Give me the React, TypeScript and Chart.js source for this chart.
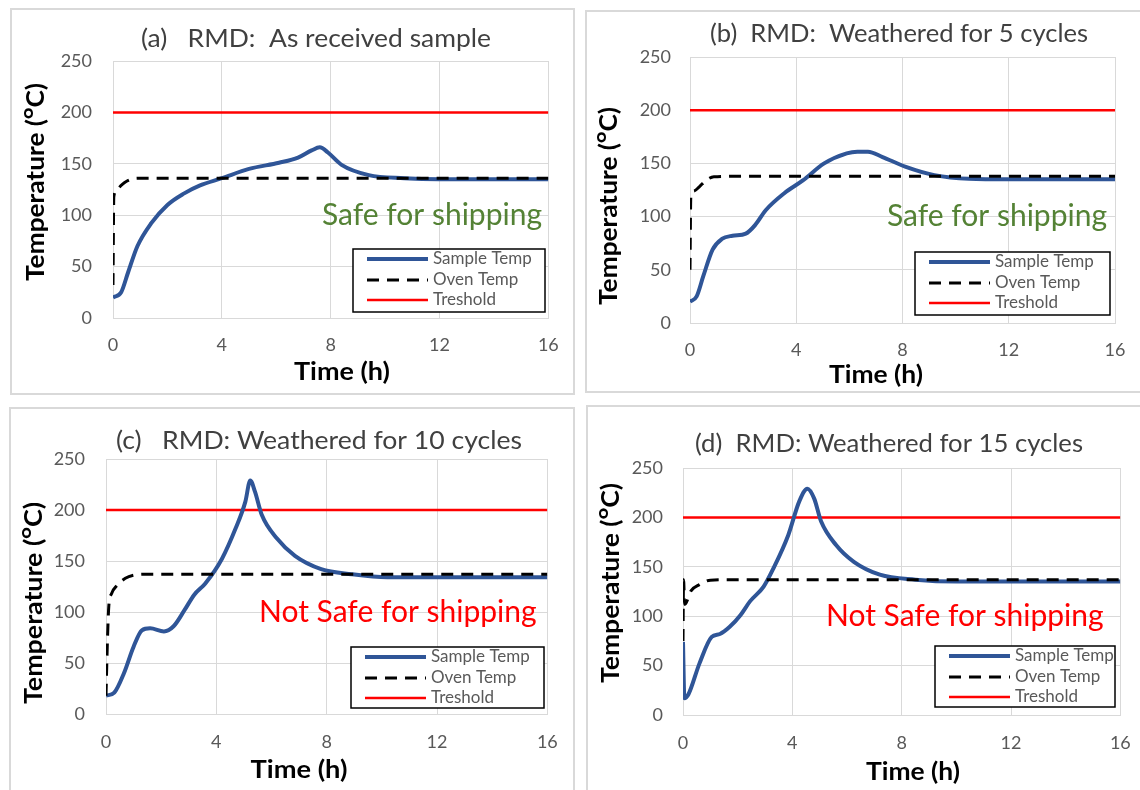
import React, { useEffect, useRef } from 'react';
import { Chart, registerables } from 'chart.js';

Chart.register(...registerables);

// ---------- DATA ----------
const xTicks = [0, 4, 8, 12, 16];
const yTicks = [0, 50, 100, 150, 200, 250];
const seriesNames = ['Sample Temp', 'Oven Temp', 'Treshold'];
const panelTitles = [
  '(a)   RMD:  As received sample',
  '(b)  RMD:  Weathered for 5 cycles',
  '(c)   RMD: Weathered for 10 cycles',
  '(d)  RMD: Weathered for 15 cycles',
];
const verdicts = ['Safe for shipping', 'Safe for shipping', 'Not Safe for shipping', 'Not Safe for shipping'];
const xAxisTitle = 'Time (h)';
const yAxisTitle = 'Temperature (\u1D3CC)';
const thresholdTime = [0, 16];
const thresholdTemp = [200, 200];

// (a) As received
const sampleTimeA = [0, 0.3, 0.55, 0.9, 1.4, 2.0, 2.6, 3.2, 4.0, 5.0, 6.1, 6.8, 7.3, 7.6, 7.9, 8.4, 9.4, 10.7, 12, 14, 16];
const sampleTempA = [20, 25, 44, 70, 92, 110, 121, 129, 136, 145, 151, 156, 163, 166, 161, 149, 139, 136, 135, 135, 135];
const ovenTimeA = [0, 0.03, 0.15, 0.3, 0.5, 0.9, 2, 16];
const ovenTempA = [32, 118, 125, 129, 133, 136, 136, 136];

// (b) 5 cycles
const sampleTimeB = [0, 0.25, 0.5, 0.85, 1.2, 1.6, 2.1, 2.45, 2.85, 3.55, 4.25, 5.05, 5.9, 6.3, 6.7, 7.25, 8.1, 9.2, 10.5, 12, 16];
const sampleTempB = [20, 25, 44, 69, 79, 82, 84, 92, 106, 122, 134, 150, 159.5, 161, 161, 156, 147, 139, 135.5, 135, 135];
const ovenTimeB = [0, 0.03, 0.15, 0.35, 0.6, 0.9, 2, 16];
const ovenTempB = [50, 118, 124, 128, 134, 137.5, 138, 138];

// (c) 10 cycles
const sampleTimeC = [0, 0.3, 0.65, 1.0, 1.3, 1.6, 2.1, 2.45, 2.85, 3.2, 3.6, 4.2, 4.7, 5.05, 5.23, 5.4, 5.65, 6.2, 6.85, 7.8, 8.9, 10.2, 12, 16];
const sampleTempC = [18, 21, 40, 66, 82, 84, 81, 86, 102, 117, 128, 152, 182, 208, 229, 218, 195, 172, 155, 142, 137, 134, 134, 134];
const ovenTimeC = [0, 0.05, 0.1, 0.2, 0.4, 0.7, 1.0, 1.5, 16];
const ovenTempC = [18, 70, 105, 118, 126, 133, 136, 137, 137];

// (d) 15 cycles
const sampleTimeD = [0, 0.05, 0.2, 0.6, 1.05, 1.35, 1.7, 2.1, 2.45, 2.95, 3.3, 3.85, 4.25, 4.55, 4.8, 5.05, 5.6, 6.25, 7.2, 8.5, 10, 16];
const sampleTempD = [74, 17, 21, 52, 79, 82, 89, 101, 115, 130, 148, 182, 216, 229, 219, 196, 172, 155, 142, 137, 135, 135];
const ovenTimeD = [0, 0.02, 0.06, 0.3, 0.6, 1.0, 2, 16];
const ovenTempD = [75, 137, 112, 126, 132, 136.5, 137, 137];

// ---------- STYLE / LAYOUT ----------
const FONT = 'Lato, "Open Sans", sans-serif';
const BLUE = '#2F5597';
const GRID = '#D9D9D9';
const GREEN = '#548235';
const RED = '#FF0000';

type Layout = {
  box: { x: number; y: number; w: number; h: number };
  plot: { l: number; r: number; t: number; b: number };
  title: { cx: number; cy: number; w: number };
  yTitle: { cx: number; cy: number; w: number };
  xTitle: { cx: number; cy: number; w: number };
  tickRight: number;
  xLabelCy: number;
  note: { x: number; cy: number; color: string };
  legend: { x: number; y: number; w: number; h: number };
};

const layouts: Layout[] = [
  {
    box: { x: 10, y: 8, w: 565, h: 387 },
    plot: { l: 113, r: 551, t: 61, b: 318 },
    title: { cx: 316, cy: 39, w: 350 },
    yTitle: { cx: 36, cy: 182, w: 198 },
    xTitle: { cx: 342, cy: 372, w: 96 },
    tickRight: 92,
    xLabelCy: 345,
    note: { x: 322, cy: 215, color: GREEN },
    legend: { x: 353, y: 249, w: 192, h: 63 },
  },
  {
    box: { x: 585, y: 10, w: 562, h: 383 },
    plot: { l: 690, r: 1115, t: 57, b: 323 },
    title: { cx: 899, cy: 34, w: 378 },
    yTitle: { cx: 609, cy: 206, w: 198 },
    xTitle: { cx: 876, cy: 375, w: 94 },
    tickRight: 671,
    xLabelCy: 350,
    note: { x: 887, cy: 216, color: GREEN },
    legend: { x: 915, y: 252, w: 195, h: 63 },
  },
  {
    box: { x: 9, y: 407, w: 566, h: 390 },
    plot: { l: 106, r: 549, t: 459, b: 714 },
    title: { cx: 319, cy: 441, w: 406 },
    yTitle: { cx: 34, cy: 603, w: 202 },
    xTitle: { cx: 299, cy: 770, w: 97 },
    tickRight: 85,
    xLabelCy: 742,
    note: { x: 259, cy: 612, color: RED },
    legend: { x: 351, y: 647, w: 193, h: 61 },
  },
  {
    box: { x: 586, y: 405, w: 562, h: 392 },
    plot: { l: 683, r: 1121, t: 468, b: 715 },
    title: { cx: 889, cy: 444, w: 388 },
    yTitle: { cx: 611, cy: 583, w: 200 },
    xTitle: { cx: 913, cy: 772, w: 94 },
    tickRight: 663,
    xLabelCy: 743,
    note: { x: 826, cy: 616, color: RED },
    legend: { x: 935, y: 646, w: 180, h: 61 },
  },
];

const seriesSets = [
  { st: sampleTimeA, sv: sampleTempA, ot: ovenTimeA, ov: ovenTempA },
  { st: sampleTimeB, sv: sampleTempB, ot: ovenTimeB, ov: ovenTempB },
  { st: sampleTimeC, sv: sampleTempC, ot: ovenTimeC, ov: ovenTempC },
  { st: sampleTimeD, sv: sampleTempD, ot: ovenTimeD, ov: ovenTempD },
];

const zip = (xs: number[], ys: number[]) => xs.map((x, i) => ({ x, y: ys[i] }));

const TICK_SIZE = 18;
const TITLE_SIZE = 25;
const AXIS_TITLE_SIZE = 25;
const NOTE_SIZE = 30;
const LEGEND_SIZE = 17;

function drawFitted(
  ctx: CanvasRenderingContext2D,
  text: string,
  cx: number,
  cy: number,
  target: number,
  rot: number
) {
  const w = ctx.measureText(text).width || 1;
  ctx.save();
  ctx.translate(cx, cy);
  if (rot) ctx.rotate(rot);
  ctx.scale(target / w, 1);
  ctx.textAlign = 'center';
  ctx.textBaseline = 'middle';
  ctx.fillText(text, 0, 0);
  ctx.restore();
}

function Panel({ idx }: { idx: number }) {
  const ref = useRef<HTMLCanvasElement>(null);
  const L = layouts[idx];
  const S = seriesSets[idx];

  useEffect(() => {
    const { box, plot } = L;
    const decor = {
      id: 'decor' + idx,
      afterDraw(chart: any) {
        const ctx = chart.ctx as CanvasRenderingContext2D;
        const ox = box.x;
        const oy = box.y;
        ctx.save();
        // panel title
        ctx.fillStyle = '#404040';
        ctx.font = `${TITLE_SIZE}px ${FONT}`;
        drawFitted(ctx, panelTitles[idx], L.title.cx - ox, L.title.cy - oy, L.title.w, 0);
        // axis titles
        ctx.fillStyle = '#000000';
        ctx.font = `bold ${AXIS_TITLE_SIZE}px ${FONT}`;
        drawFitted(ctx, xAxisTitle, L.xTitle.cx - ox, L.xTitle.cy - oy, L.xTitle.w, 0);
        drawFitted(ctx, yAxisTitle, L.yTitle.cx - ox, L.yTitle.cy - oy, L.yTitle.w, -Math.PI / 2);
        // verdict
        ctx.fillStyle = L.note.color;
        ctx.font = `${NOTE_SIZE}px ${FONT}`;
        ctx.textAlign = 'left';
        ctx.textBaseline = 'middle';
        ctx.fillText(verdicts[idx], L.note.x - ox, L.note.cy - oy);
        // legend
        const lg = L.legend;
        const lx = lg.x - ox;
        const ly = lg.y - oy;
        ctx.fillStyle = '#FFFFFF';
        ctx.fillRect(lx, ly, lg.w, lg.h);
        ctx.strokeStyle = '#000000';
        ctx.lineWidth = 1.5;
        ctx.strokeRect(lx, ly, lg.w, lg.h);
        const rows = [10, 31, 51];
        const styles = [
          { c: BLUE, w: 4, d: [] as number[] },
          { c: '#000000', w: 3, d: [12, 8] },
          { c: RED, w: 2.5, d: [] as number[] },
        ];
        ctx.font = `${LEGEND_SIZE}px ${FONT}`;
        ctx.textAlign = 'left';
        ctx.textBaseline = 'middle';
        rows.forEach((ry, i) => {
          ctx.beginPath();
          ctx.strokeStyle = styles[i].c;
          ctx.lineWidth = styles[i].w;
          ctx.setLineDash(styles[i].d);
          ctx.moveTo(lx + 14, ly + ry);
          ctx.lineTo(lx + 75, ly + ry);
          ctx.stroke();
          ctx.setLineDash([]);
          ctx.fillStyle = '#595959';
          ctx.fillText(seriesNames[i], lx + 80, ly + ry);
        });
        ctx.restore();
      },
    };

    const chart = new Chart(ref.current as HTMLCanvasElement, {
      type: 'line',
      data: {
        datasets: [
          {
            label: seriesNames[0],
            data: zip(S.st, S.sv),
            borderColor: BLUE,
            borderWidth: 4,
            pointRadius: 0,
            cubicInterpolationMode: 'monotone',
            fill: false,
            order: 1,
          },
          {
            label: seriesNames[1],
            data: zip(S.ot, S.ov),
            borderColor: '#000000',
            borderWidth: 3,
            borderDash: [12, 8],
            pointRadius: 0,
            cubicInterpolationMode: 'monotone',
            fill: false,
            order: 0,
          },
          {
            label: seriesNames[2],
            data: zip(thresholdTime, thresholdTemp),
            borderColor: RED,
            borderWidth: 2.5,
            pointRadius: 0,
            fill: false,
            order: 2,
          },
        ],
      },
      options: {
        responsive: false,
        animation: false,
        devicePixelRatio: 1,
        parsing: false as any,
        layout: {
          padding: {
            left: 0,
            top: plot.t - box.y,
            right: box.x + box.w - plot.r,
            bottom: 0,
          },
        },
        plugins: {
          legend: { display: false },
          tooltip: { enabled: false },
          title: { display: false },
        },
        scales: {
          x: {
            type: 'linear',
            min: 0,
            max: 16,
            afterBuildTicks: (s: any) => {
              s.ticks = xTicks.map((v) => ({ value: v }));
            },
            afterFit: (s: any) => {
              s.height = box.y + box.h - plot.b;
            },
            ticks: {
              padding: L.xLabelCy - plot.b - (TICK_SIZE * 1.2) / 2,
              color: '#595959',
              font: { family: FONT, size: TICK_SIZE },
              maxRotation: 0,
            },
            grid: { color: GRID, lineWidth: 1, drawTicks: false },
            border: { color: GRID, width: 1 },
          },
          y: {
            type: 'linear',
            min: 0,
            max: 250,
            afterBuildTicks: (s: any) => {
              s.ticks = yTicks.map((v) => ({ value: v }));
            },
            afterFit: (s: any) => {
              s.width = plot.l - box.x;
            },
            ticks: {
              padding: plot.l - L.tickRight,
              color: '#595959',
              font: { family: FONT, size: TICK_SIZE },
            },
            grid: { color: GRID, lineWidth: 1, drawTicks: false },
            border: { color: GRID, width: 1 },
          },
        },
      },
      plugins: [decor],
    } as any);
    return () => chart.destroy();
  }, [idx]);

  return (
    <>
      <div
        style={{
          position: 'absolute',
          left: L.box.x,
          top: L.box.y,
          width: L.box.w,
          height: L.box.h,
          border: '2px solid #D9D9D9',
          boxSizing: 'border-box',
        }}
      />
      <canvas
        ref={ref}
        width={L.box.w}
        height={L.box.h}
        style={{ position: 'absolute', left: L.box.x, top: L.box.y, width: L.box.w, height: L.box.h }}
      />
    </>
  );
}

export default function App() {
  return (
    <div
      style={{
        position: 'absolute',
        left: 0,
        top: 0,
        width: 1140,
        height: 790,
        overflow: 'hidden',
        background: '#FFFFFF',
      }}
    >
      {[0, 1, 2, 3].map((i) => (
        <Panel key={i} idx={i} />
      ))}
    </div>
  );
}
